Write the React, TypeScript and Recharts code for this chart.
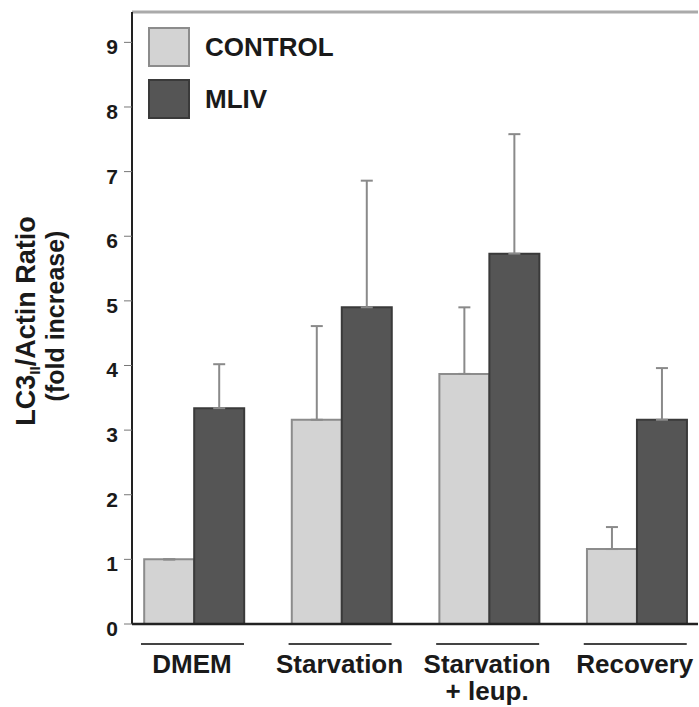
import React from 'react';
import { BarChart, Bar, XAxis, YAxis, ErrorBar, Legend, ReferenceLine } from 'recharts';

const categories = ['DMEM', 'Starvation', 'Starvation\n+ leup.', 'Recovery'];
const controlValues = [1.0, 3.16, 3.87, 1.16];
const controlErrors = [0, 1.45, 1.03, 0.34];
const mlivValues = [3.34, 4.9, 5.73, 3.16];
const mlivErrors = [0.68, 1.96, 1.85, 0.8];
const yTicks = [0, 1, 2, 3, 4, 5, 6, 7, 8, 9];

const FONT = '"Liberation Sans", Arial, Helvetica, sans-serif';
const CONTROL_FILL = '#d3d3d3';
const CONTROL_STROKE = '#8c8c8c';
const MLIV_FILL = '#555555';
const MLIV_STROKE = '#3a3a3a';
const Y_MAX = 9.47;

const chartData = categories.map((name, i) => ({
  idx: i,
  name,
  control: controlValues[i],
  controlErr: [0, controlErrors[i]],
  mliv: mlivValues[i],
  mlivErr: [0, mlivErrors[i]],
}));

function CategoryTick(props: any) {
  const { x, y, payload } = props;
  const lines = categories[payload.value].split('\n');
  return (
    <g>
      <line x1={x - 53} x2={x + 50} y1={y + 12} y2={y + 12} stroke="#444" strokeWidth={2} />
      {lines.map((line, i) => (
        <text
          key={i}
          x={x - 2}
          y={y + 41 + i * 27}
          textAnchor="middle"
          fontFamily={FONT}
          fontWeight="bold"
          fontSize={26}
          fill="#1a1a1a"
        >
          {line}
        </text>
      ))}
    </g>
  );
}

function ValueTick(props: any) {
  const { x, y, payload } = props;
  return (
    <text x={x} y={y + 12} textAnchor="end" fontFamily={FONT} fontWeight="bold" fontSize={21} fill="#1a1a1a">
      {payload.value}
    </text>
  );
}

function YLabel() {
  return (
    <g fontFamily={FONT} fontWeight="bold" fill="#1a1a1a">
      <text x={35} y={321} transform="rotate(-90 35 321)" textAnchor="middle" fontSize={27}>
        LC3
        <tspan fontSize={15} dy={5}>II</tspan>
        <tspan dy={-5}>/Actin Ratio</tspan>
      </text>
      <text x={64} y={316} transform="rotate(-90 64 316)" textAnchor="middle" fontSize={25}>
        (fold increase)
      </text>
    </g>
  );
}

function LegendContent(props: any) {
  const { payload } = props;
  return (
    <div style={{ display: 'flex', flexDirection: 'column', gap: 12 }}>
      {(payload || []).map((entry: any) => {
        const isControl = entry.dataKey === 'control';
        return (
          <div key={entry.value} style={{ display: 'flex', alignItems: 'center' }}>
            <span
              style={{
                display: 'inline-block',
                width: 38,
                height: 36,
                background: isControl ? CONTROL_FILL : MLIV_FILL,
                border: `2px solid ${isControl ? CONTROL_STROKE : MLIV_STROKE}`,
              }}
            />
            <span
              style={{
                marginLeft: 15,
                fontFamily: FONT,
                fontWeight: 'bold',
                fontSize: 26,
                color: '#1a1a1a',
              }}
            >
              {entry.value}
            </span>
          </div>
        );
      })}
    </div>
  );
}

export default function App() {
  return (
    <div style={{ position: 'absolute', left: 0, top: 0, width: 699, height: 707, background: '#fff' }}>
      <BarChart
        width={699}
        height={707}
        data={chartData}
        margin={{ top: 12, right: 1, left: 0, bottom: 0 }}
        barGap={0}
      >
        <XAxis
          dataKey="idx"
          type="number"
          domain={[-0.42, 3.415]}
          ticks={[0, 1, 2, 3]}
          height={83}
          axisLine={{ stroke: '#222', strokeWidth: 2.5 }}
          tickLine={false}
          tick={<CategoryTick />}
          interval={0}
        />
        <YAxis
          type="number"
          domain={[0, Y_MAX]}
          ticks={yTicks}
          width={132}
          axisLine={{ stroke: '#222', strokeWidth: 2 }}
          tickLine={{ stroke: '#777', strokeWidth: 1 }}
          tickSize={8}
          tickMargin={6}
          tick={<ValueTick />}
          label={<YLabel />}
        />
        <YAxis
          yAxisId="right"
          orientation="right"
          domain={[0, Y_MAX]}
          width={0}
          tick={false}
          tickLine={false}
          axisLine={{ stroke: '#aaa', strokeWidth: 2 }}
        />
        <ReferenceLine y={Y_MAX} stroke="#aaa" strokeWidth={3} />
        <Legend
          layout="vertical"
          align="center"
          verticalAlign="middle"
          content={<LegendContent />}
          wrapperStyle={{ top: 27, left: 148, width: 'auto' }}
        />
        <Bar
          dataKey="control"
          name="CONTROL"
          fill={CONTROL_FILL}
          stroke={CONTROL_STROKE}
          strokeWidth={2}
          barSize={50}
          isAnimationActive={false}
        >
          <ErrorBar dataKey="controlErr" direction="y" width={6} stroke="#8a8a8a" strokeWidth={2} />
        </Bar>
        <Bar
          dataKey="mliv"
          name="MLIV"
          fill={MLIV_FILL}
          stroke={MLIV_STROKE}
          strokeWidth={2}
          barSize={50}
          isAnimationActive={false}
        >
          <ErrorBar dataKey="mlivErr" direction="y" width={6} stroke="#8a8a8a" strokeWidth={2} />
        </Bar>
      </BarChart>
    </div>
  );
}
